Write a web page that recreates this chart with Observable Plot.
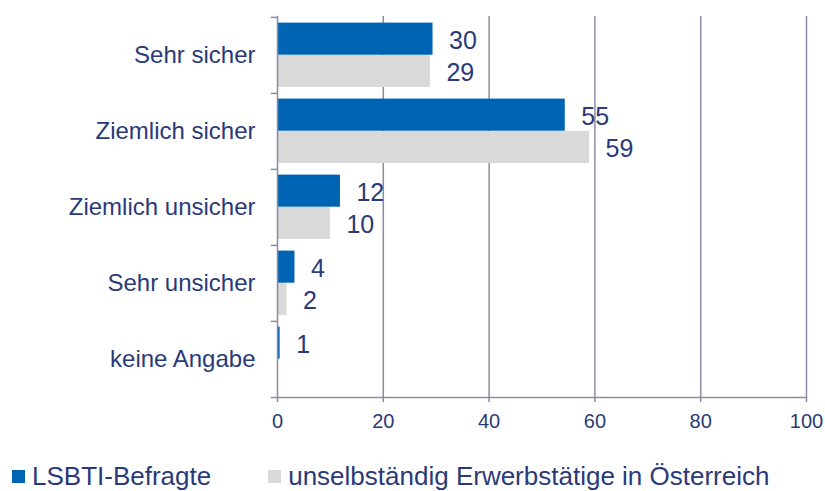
<!DOCTYPE html>
<html><head><meta charset="utf-8">
<script src="https://cdn.jsdelivr.net/npm/d3@7"></script>
<script src="https://cdn.jsdelivr.net/npm/@observablehq/plot@0.6"></script>
<style>
body{margin:0;background:#fff;font-family:"Liberation Sans",Arial,Helvetica,sans-serif;}
#legend{display:flex;align-items:center;height:28px;line-height:28px;font-size:26px;color:#2a3a78;padding-left:12px;white-space:nowrap}
#legend .sw{width:13px;height:13px;display:inline-block;margin-right:7px;flex:none}
#legend .item{display:flex;align-items:center}
</style></head><body>
<div id="chart"></div>
<div id="legend"></div>
<script>
const categories = ["Sehr sicher", "Ziemlich sicher", "Ziemlich unsicher", "Sehr unsicher", "keine Angabe"];
const seriesNames = ["LSBTI-Befragte", "unselbständig Erwerbstätige in Österreich"];
const lsbtiValues = [29.4, 54.4, 11.9, 3.3, 0.5];
const lsbtiLabels = ["30", "55", "12", "4", "1"];
const erwerbValues = [28.9, 59.0, 10.0, 1.8, null];
const erwerbLabels = ["29", "59", "10", "2", ""];
const xTicks = [0, 20, 40, 60, 80, 100];
const colors = ["#0064b4", "#d9d9d9"];

const lsbtiRows = categories.map((c, i) => ({category: c, value: lsbtiValues[i], label: lsbtiLabels[i]}));
const erwerbRows = categories.map((c, i) => ({category: c, value: erwerbValues[i], label: erwerbLabels[i]}))
  .filter(d => d.value != null);

const W = 825, H = 462, mT = 16, mB = 65, mL = 277, mR = 19;
const band = (H - mT - mB) / categories.length;
const barH = band * 0.424;
const topGap = band * 0.0735;
const ink = "#2a3a78", gridC = "#8b8ba5";
const font = "'Liberation Sans', Arial, Helvetica, sans-serif";

const chart = Plot.plot({
  width: W, height: H,
  marginTop: mT, marginBottom: mB, marginLeft: mL, marginRight: mR,
  style: {fontFamily: font, color: ink, background: "#fff", overflow: "visible"},
  x: {domain: [0, 100], ticks: xTicks, label: null},
  y: {domain: categories, padding: 0, label: null},
  marks: [
    Plot.gridX(xTicks.slice(1), {stroke: gridC, strokeOpacity: 1, strokeWidth: 1.5}),
    Plot.barX(erwerbRows, {y: "category", x: "value", fill: colors[1],
      insetTop: topGap + barH, insetBottom: band - topGap - 2 * barH}),
    Plot.barX(lsbtiRows, {y: "category", x: "value", fill: colors[0],
      insetTop: topGap, insetBottom: band - topGap - barH}),
    Plot.text(lsbtiRows, {y: "category", x: "value", text: "label", dx: 16, dy: -15,
      textAnchor: "start", lineAnchor: "middle", fontSize: 25, fill: ink}),
    Plot.text(erwerbRows, {y: "category", x: "value", text: "label", dx: 16, dy: 17,
      textAnchor: "start", lineAnchor: "middle", fontSize: 25, fill: ink}),
    Plot.frame({anchor: "left", stroke: gridC, strokeWidth: 1.5}),
    Plot.frame({anchor: "bottom", stroke: gridC, strokeWidth: 1.5, insetLeft: -6}),
    Plot.axisY({tickSize: 6, text: null, dy: -band / 2, stroke: gridC, strokeWidth: 1.5, label: null}),
    Plot.axisY({tickSize: 0, tickPadding: 22, fontSize: 24, fill: ink, label: null}),
    Plot.axisX({ticks: xTicks, tickSize: 5, tickPadding: 11, fontSize: 20, stroke: gridC, strokeWidth: 1.5, fill: ink, label: null})
  ]
});
document.getElementById("chart").append(chart);

const legend = d3.select("#legend");
seriesNames.forEach((name, i) => {
  const item = legend.append("div").attr("class", "item").style("margin-right", i === 0 ? "57px" : "0");
  item.append("span").attr("class", "sw").style("background", colors[i]);
  item.append("span").text(name);
});
</script>
</body></html>
